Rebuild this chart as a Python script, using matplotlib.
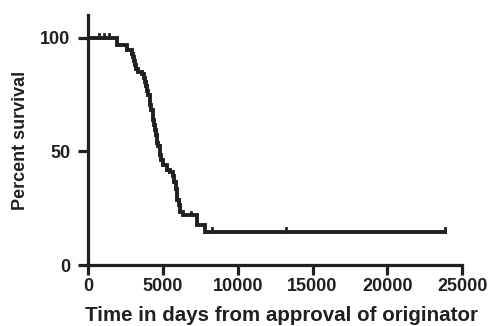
import numpy as np
import matplotlib
matplotlib.use('Agg')
from matplotlib import pyplot as plt

# Kaplan-Meier style steps
days = [0, 1950, 2620, 2950, 3020, 3090, 3160, 3220, 3360, 3620, 3760, 3830,
        3890, 3960, 4030, 4100, 4160, 4230, 4300, 4360, 4430, 4500, 4560,
        4630, 4700, 4770, 4830, 4900, 5030, 5240, 5440, 5640, 5770, 5840,
        5910, 5970, 6040, 6110, 6170, 6310, 7250, 7790, 23890]
survival = [100, 96.9, 94.7, 93.0, 91.4, 89.9, 88.2, 86.4, 85.1, 84.2, 82.5,
            80.7, 78.9, 76.7, 74.6, 72.4, 70.2, 68.0, 65.8, 63.6, 61.4, 59.2,
            57.0, 53.9, 52.2, 50.4, 48.2, 46.1, 43.9, 41.7, 40.8, 39.0, 36.4,
            33.6, 30.7, 28.5, 26.3, 24.7, 23.2, 21.9, 17.5, 14.5, 14.5]
# censored observations
cens_days = [740, 1070, 1410, 6900, 8250, 13200, 23890]

xticks = [0, 5000, 10000, 15000, 20000, 25000]
yticks = [0, 50, 100]

plt.rcParams['font.family'] = ['Liberation Sans', 'DejaVu Sans']
plt.rcParams['font.weight'] = 'bold'
ink = '#231f20'

fig = plt.figure(figsize=(4.9, 3.26), dpi=100)
ax = fig.add_axes([0.18, 0.187, 0.763, 0.767])

lw = 2.8
ax.step(days, survival, where='post', color=ink, lw=lw,
        solid_joinstyle='miter')
for d in cens_days:
    idx = np.searchsorted(days, d, side='right') - 1
    y = survival[idx]
    ax.plot([d, d], [y, y + 1.6], color=ink, lw=2.0)

ax.set_xlim(0, 25000)
ax.set_ylim(0, 110)
ax.set_xticks(xticks)
ax.set_yticks(yticks)
for s in ['top', 'right']:
    ax.spines[s].set_visible(False)
for s in ['left', 'bottom']:
    ax.spines[s].set_linewidth(2.3)
    ax.spines[s].set_color(ink)
ax.spines['bottom'].set_bounds(0, 25000)
ax.spines['left'].set_bounds(0, 110)
ax.tick_params(width=2.3, length=7, color=ink, labelsize=13, labelcolor=ink)
ax.tick_params(axis='x', pad=2)
ax.tick_params(axis='y', pad=6)
for lab in ax.get_xticklabels() + ax.get_yticklabels():
    lab.set_fontweight('bold')
ax.set_xlabel('Time in days from approval of originator', fontsize=14.8,
              fontweight='bold', color=ink)
ax.xaxis.set_label_coords(0.517, -0.163)
ax.set_ylabel('Percent survival', fontsize=13, fontweight='bold',
              labelpad=8, color=ink)

fig.savefig('out.png', dpi=100)
